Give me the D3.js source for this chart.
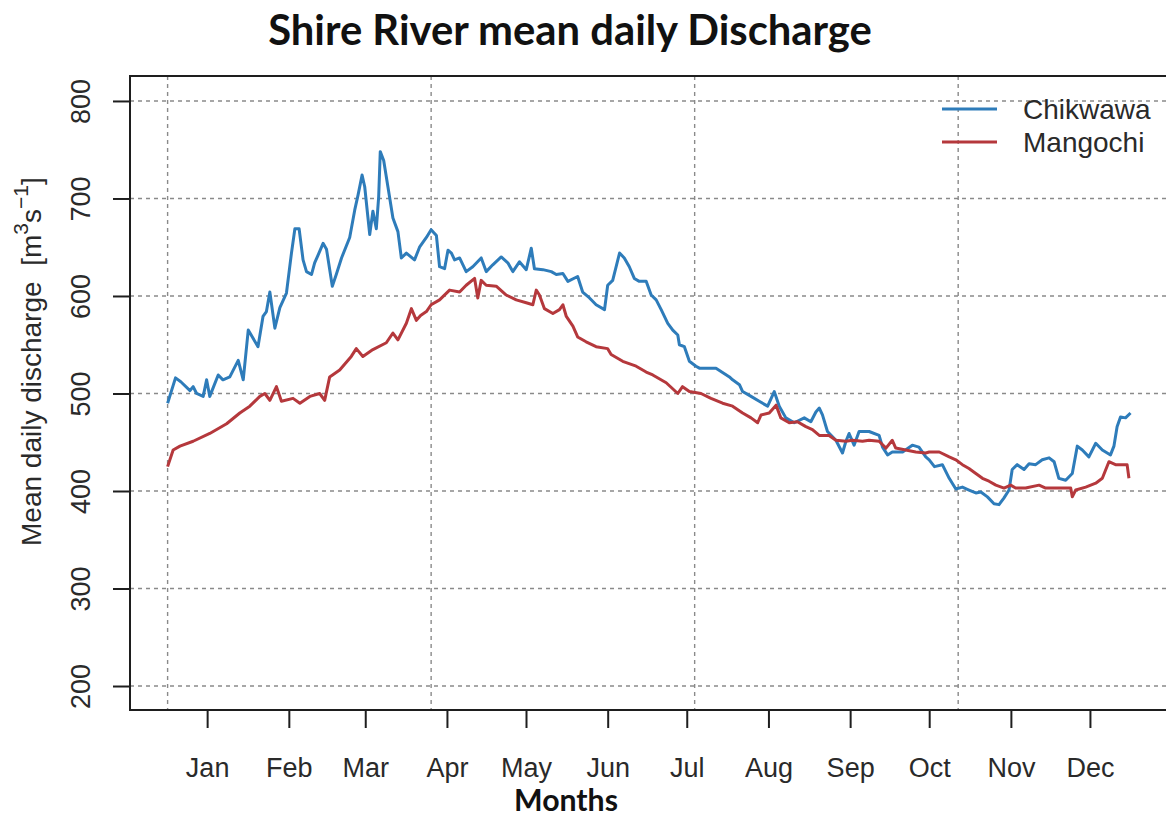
<!DOCTYPE html>
<html>
<head>
<meta charset="utf-8">
<script src="https://cdn.jsdelivr.net/npm/d3@7/dist/d3.min.js"></script>
<style>
  html, body { margin: 0; padding: 0; background: #fff; }
  svg { display: block; }
</style>
</head>
<body>
<svg id="chart" width="1166" height="818"></svg>
<script>
// Mean daily discharge of the Shire River, day of year vs m3/s
const chikwawaDay = [0,3,5,8.5,9.7,11,13.5,14.8,16,19.2,21,23.6,26.8,28.7,30.6,34.3,36.2,37.5,38.8,40.7,42.6,45.1,47,48.3,49.9,51.4,52.7,54.6,55.8,57.1,59,60.3,62.5,64,66,69.1,71,72.3,73.8,74.8,76,76.7,77.9,79.2,80.1,80.7,82,83.6,85.5,87.4,88.7,90.6,93.7,95.6,98.2,100,102,103.2,105.1,106.4,107.7,108.9,110.8,113.3,115.8,119,120.9,123.4,126.6,129.1,131,133.5,136.1,138,139.2,142.4,145.6,147.5,150,151.9,155.6,157.5,160.1,162.6,165.8,167,168.9,171.5,173.3,175.2,177.1,179,181.6,183.5,185.4,187.3,189.8,191.7,193.6,194.2,196.1,198,200.5,201.8,208.1,213.2,214.4,217,218.2,221.4,224.5,227.7,230.2,232.1,234.6,237.8,241.6,244.1,246,247.3,248.5,250.4,253.6,256.1,257.4,258.6,260.5,262.4,266.2,270,271.3,273.2,275,278.9,282.6,285.1,287.7,289,291,294,296.6,299.1,301.6,304.1,306.7,308.6,311.1,313.6,315.5,317.4,319.3,320.5,322.4,325,326.9,329.4,331.9,334.5,336.4,338.2,340.8,343.3,345.2,347.1,349.6,352.2,354.7,357.8,359.1,360.3,361.6,363.5,365.4];
const chikwawaQ = [490,516,512,503,507,500,497,514,497,519,514,517,534,514,565,548,579,584,604,567,588,603,644,669,669,637,625,622,634,642,654,648,610,622,639,660,688,704,724,712,681,663,687,669,702,748,739,712,680,666,639,644,637,650,660,668,662,630,628,647,644,637,639,625,630,639,625,632,640,634,625,635,627,649,628,627,625,622,623,615,620,604,598,591,586,611,616,644,639,630,618,615,615,601,596,586,572,565,560,550,548,533,528,526,526,517,514,509,502,497,492,487,502,487,475,470,475,471,481,485,478,461,452,439,451,459,447,461,461,457,445,437,440,440,447,445,435,432,425,427,413,402,404,401,398,399,394,387,386,393,401,422,427,422,428,427,432,434,430,413,411,418,446,442,435,449,442,437,446,466,476,475,480];

const mangochiDay = [0,2.1,4.7,9.7,16,22.4,27.4,31.2,35,36.9,38.8,41.3,43.2,47.6,50.2,54,57.7,59.6,61.5,65.3,69.7,71.6,74.1,77.9,83,85.5,87.4,90.6,92.5,94.4,96,98.2,100,103.2,107,110.8,113.3,116.5,117.7,119,120.9,124.7,128.5,132.3,136.1,138.6,139.9,141.1,143,146.2,148.7,150,151.3,153.8,155.6,158.8,162.6,167,168.3,172.7,177.8,181.6,184.1,189.2,193.6,195.4,198,202.4,206.2,210.6,214.4,218.2,221.4,223.9,225.2,228.3,230.9,232.7,235.9,239,242.2,244.7,247.3,251,253.6,257.4,259.9,263.7,266.2,270,272.6,275,276.3,280.1,283.9,287.7,289,292.8,296.6,299.1,301.6,304.1,306.7,309.2,311.7,314.3,317.4,319.9,321.8,325.6,330.7,333.2,339.5,342.7,343.3,344.6,348.4,352.2,354.7,357.2,359.7,364.1,364.8];
const mangochiQ = [425,442,446,451,459,469,480,487,497,500,493,507,492,495,490,497,500,493,517,524,538,546,538,545,552,562,555,572,587,575,580,584,591,596,606,604,611,618,598,616,611,610,601,596,593,591,606,601,587,582,586,591,579,569,558,553,548,546,540,533,528,522,519,511,500,507,502,500,495,490,487,480,475,470,478,480,488,475,470,471,466,463,457,457,452,451,452,451,452,451,444,452,444,442,440,439,440,440,435,432,427,423,418,413,410,406,403,406,403,403,406,403,403,403,394,401,404,408,413,430,427,427,413];

// Axis ticks and labels
const yTicks = [200, 300, 400, 500, 600, 700, 800];
const gridDays = [0, 100, 200, 300];
const monthTickDays = [15, 46, 75, 106, 136, 167, 197, 228, 259, 289, 320, 350];
const monthLabels = ["Jan","Feb","Mar","Apr","May","Jun","Jul","Aug","Sep","Oct","Nov","Dec"];

const seriesNames = ["Chikwawa", "Mangochi"];
const seriesColors = ["#2e7cba", "#b5383c"];

const svg = d3.select("#chart");
const plot = { left: 130, top: 76, right: 1169, bottom: 710 };

const x = d3.scaleLinear().domain([-14.27, 380]).range([plot.left, plot.right]);
const y = d3.scaleLinear().domain([175.4, 825.6]).range([plot.bottom, plot.top]);

const sans = "'Liberation Sans', Arial, sans-serif";

// dotted grid
const grid = svg.append("g")
  .attr("stroke", "#8a8a8a")
  .attr("stroke-width", 1.4)
  .attr("stroke-dasharray", "4,4");
grid.selectAll("line.h").data(yTicks).enter().append("line")
  .attr("x1", plot.left).attr("x2", plot.right)
  .attr("y1", d => y(d)).attr("y2", d => y(d));
grid.selectAll("line.v").data(gridDays).enter().append("line")
  .attr("y1", plot.top).attr("y2", plot.bottom)
  .attr("x1", d => x(d)).attr("x2", d => x(d));

// series lines
const line = d3.line().x(d => x(d[0])).y(d => y(d[1]));
const series = [
  d3.zip(chikwawaDay, chikwawaQ),
  d3.zip(mangochiDay, mangochiQ)
];
// Chikwawa first, then Mangochi on top
series.forEach((pts, i) => {
  svg.append("path")
    .datum(pts)
    .attr("fill", "none")
    .attr("stroke", seriesColors[i])
    .attr("stroke-width", 3)
    .attr("stroke-linejoin", "round")
    .attr("d", line);
});

// plot frame
svg.append("rect")
  .attr("x", plot.left).attr("y", plot.top)
  .attr("width", plot.right - plot.left).attr("height", plot.bottom - plot.top)
  .attr("fill", "none").attr("stroke", "#1e1e1e").attr("stroke-width", 2);

// y axis
const yAxis = d3.axisLeft(y).tickValues(yTicks).tickSize(17).tickPadding(0).tickFormat(d3.format("d"));
const yg = svg.append("g").attr("transform", `translate(${plot.left},0)`).call(yAxis);
yg.select(".domain").remove();
yg.selectAll(".tick line").attr("stroke", "#1e1e1e").attr("stroke-width", 2);
yg.selectAll(".tick text")
  .attr("font-family", sans).attr("font-size", 27).attr("fill", "#2a2a2a")
  .attr("text-anchor", "middle")
  .attr("x", null).attr("dy", null)
  .attr("transform", "translate(-40,0) rotate(-90)");

// x axis
const xAxis = d3.axisBottom(x).tickValues(monthTickDays).tickSize(18).tickPadding(0)
  .tickFormat((d, i) => monthLabels[i]);
const xg = svg.append("g").attr("transform", `translate(0,${plot.bottom})`).call(xAxis);
xg.select(".domain").remove();
xg.selectAll(".tick line").attr("stroke", "#1e1e1e").attr("stroke-width", 2);
xg.selectAll(".tick text")
  .attr("font-family", sans).attr("font-size", 27).attr("fill", "#2a2a2a")
  .attr("y", 67).attr("dy", null);

// fit a text element to a given width
function fitWidth(sel, target) {
  const fs = +sel.attr("font-size");
  const w = sel.node().getComputedTextLength();
  if (w > 0) sel.attr("font-size", fs * target / w);
}

// title
const title = svg.append("text")
  .attr("x", 570).attr("y", 45)
  .attr("text-anchor", "middle")
  .attr("font-family", "Lato, 'Open Sans', sans-serif")
  .attr("font-weight", "bold")
  .attr("font-size", 34)
  .attr("fill", "#111")
  .text("Shire River mean daily Discharge");
fitWidth(title, 604);

// x title
const xt = svg.append("text")
  .attr("x", 566).attr("y", 811)
  .attr("text-anchor", "middle")
  .attr("font-family", "Lato, 'Open Sans', sans-serif")
  .attr("font-weight", "bold")
  .attr("font-size", 22)
  .attr("fill", "#111")
  .text("Months");
fitWidth(xt, 104);

// y title with units
const yt = svg.append("text")
  .attr("transform", "translate(41,546) rotate(-90)")
  .attr("font-family", sans)
  .attr("font-size", 28)
  .attr("fill", "#2a2a2a");
yt.append("tspan").text("Mean daily discharge\u00a0\u00a0[m");
yt.append("tspan").attr("font-size", 21).attr("dy", -13).text("3");
yt.append("tspan").attr("dy", 13).text("s");
yt.append("tspan").attr("font-size", 21).attr("dy", -13).text("\u22121");
yt.append("tspan").attr("dy", 13).text("]");

// legend
const legend = svg.append("g");
const legendY = [109, 142];
seriesNames.forEach((name, i) => {
  legend.append("line")
    .attr("x1", 942).attr("x2", 997)
    .attr("y1", legendY[i]).attr("y2", legendY[i])
    .attr("stroke", seriesColors[i]).attr("stroke-width", 3);
  legend.append("text")
    .attr("x", 1023).attr("y", legendY[i] + 10)
    .attr("font-family", sans).attr("font-size", 28).attr("fill", "#2a2a2a")
    .text(name);
});
</script>
</body>
</html>
